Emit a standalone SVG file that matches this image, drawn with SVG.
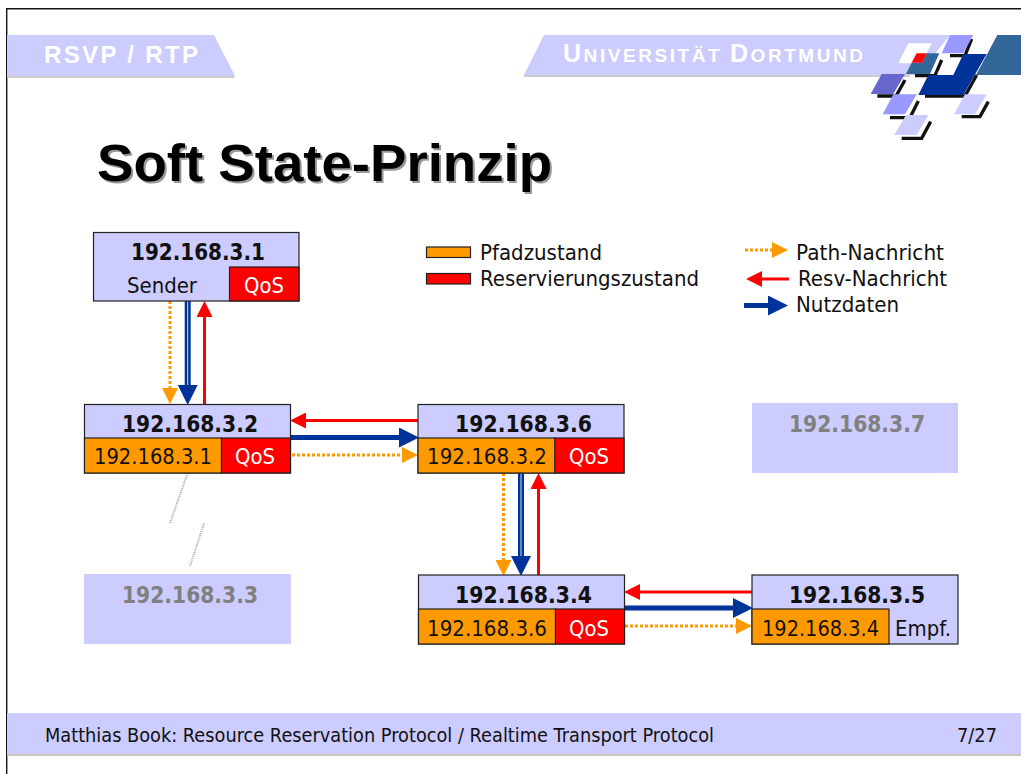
<svg xmlns="http://www.w3.org/2000/svg" width="1021" height="774" viewBox="0 0 1021 774">
<style>
text{font-family:"DejaVu Sans","Noto Sans",sans-serif;fill:#111}
.ip{font-size:23px;font-weight:700}
.reg{font-size:22px}
.ghost{fill:#808080}
.wt{fill:#fff}
.box{fill:#ccf;stroke:#222;stroke-width:1.2}
.org{fill:#f90;stroke:#222;stroke-width:1.2}
.red{fill:#f00;stroke:#222;stroke-width:1.2}
.path{stroke:#f90;stroke-width:3;stroke-dasharray:3 2;fill:none;marker-end:url(#hO)}
.resv{stroke:#f00;stroke-width:3;fill:none;marker-end:url(#hR)}
.data{stroke:#039;stroke-width:5;fill:none;marker-end:url(#hB)}
</style>
<defs>
<marker id="hO" markerUnits="userSpaceOnUse" markerWidth="16" markerHeight="16" refX="0" refY="8" orient="auto"><path d="M0 0L16 8L0 16Z" fill="#f90"/></marker>
<marker id="hR" markerUnits="userSpaceOnUse" markerWidth="16" markerHeight="16" refX="0" refY="8" orient="auto"><path d="M0 0L16 8L0 16Z" fill="#f00"/></marker>
<marker id="hB" markerUnits="userSpaceOnUse" markerWidth="20" markerHeight="20" refX="0" refY="10" orient="auto"><path d="M0 0L20 10L0 20Z" fill="#039"/></marker>
</defs>
<rect width="1021" height="774" fill="#fff"/>
<path d="M6.700 774V8.700H1021" fill="none" stroke="#111" stroke-width="1.400"/>
<g id="header">
<path d="M7 76H235L234 78H7Z" fill="#ccc"/>
<path d="M7 35H214L235 76H7Z" fill="#ccf"/>
<text x="44" y="63" class="wt" style="font-family:'Liberation Sans',sans-serif;font-weight:700;font-size:24px" textLength="154">RSVP / RTP</text>
<path d="M524 75H910V77H524Z" fill="#ccc"/>
<path d="M544 35H950L918 75H524Z" fill="#ccf"/>
<text x="563" y="62" class="wt" style="font-family:'Liberation Sans',sans-serif;font-weight:700;font-size:19px" textLength="300"><tspan font-size="25">U</tspan>NIVERSITÄT <tspan font-size="25">D</tspan>ORTMUND</text>
</g>
<g id="logo" transform="translate(860 25) scale(.3333)">
<path d="M52 213H108L135 165M90 278H150L175 228M125 340H185L212 290M305 275H360L385 230M195 213H315L350 150M270 92H315L335 42M165 152H225L245 105" fill="none" stroke="#111" stroke-width="10"/>
<path d="M145 55H215L185 115H115Z" fill="#fff"/>
<path d="M138 147L155 113H187L200 85H238L210 147Z" fill="#369"/>
<path d="M170 85H200L187 113H155Z" fill="#f00"/>
<path d="M412 30H483V150H348Z" fill="#369"/>
<path d="M270 30H340L310 85H245Z" fill="#99f"/>
<path d="M310 87H380L310 210H175L205 150H280Z" fill="#039"/>
<path d="M262 100H300L275 145H232Z" fill="#fff"/>
<path d="M65 147H135L100 207H32Z" fill="#66c"/>
<path d="M100 208H170L135 268H68Z" fill="#99f"/>
<path d="M138 270H205L170 330H103Z" fill="#ccf"/>
<path d="M315 208H380L345 268H282Z" fill="#ccf"/>
</g>
<g id="title">
<text x="99" y="183" style="font-family:'Liberation Sans',sans-serif;font-weight:700;font-size:51px;fill:#999" textLength="455" lengthAdjust="spacingAndGlyphs">Soft State-Prinzip</text>
<text x="97" y="181" style="font-family:'Liberation Sans',sans-serif;font-weight:700;font-size:51px;fill:#000" textLength="455" lengthAdjust="spacingAndGlyphs">Soft State-Prinzip</text>
</g>
<g id="legend">
<rect x="426.500" y="247" width="44" height="10.500" class="org"/>
<rect x="426.500" y="273.500" width="44" height="10.500" class="red"/>
<text x="480" y="260" class="reg" textLength="122" lengthAdjust="spacingAndGlyphs">Pfadzustand</text>
<text x="480" y="286" class="reg" textLength="219" lengthAdjust="spacingAndGlyphs">Reservierungszustand</text>
<text x="796" y="260" class="reg" textLength="148" lengthAdjust="spacingAndGlyphs">Path-Nachricht</text>
<text x="798" y="286" class="reg" textLength="149" lengthAdjust="spacingAndGlyphs">Resv-Nachricht</text>
<text x="796" y="312" class="reg" textLength="103" lengthAdjust="spacingAndGlyphs">Nutzdaten</text>
</g>
<g id="connectors">
<path class="path" d="M745 250H772"/>
<path class="resv" d="M789 279H762"/>
<path class="data" d="M744 305.500H768"/>
<path class="path" d="M170 301V388"/>
<path d="M187.700 301V385" stroke="#039" stroke-width="6"/><path d="M187.700 301V385" stroke="#cde" stroke-width="1"/>
<path class="data" d="M187.700 301V385" style="stroke:none"/>
<path class="resv" d="M204.500 404V317"/>
<path class="resv" d="M418 420.500H306"/>
<path class="data" d="M290 437.500H399"/>
<path class="path" d="M292 455H402"/>
<path class="path" d="M503.500 473V560"/>
<path d="M521 473V556" stroke="#039" stroke-width="6"/><path d="M521 473V556" stroke="#cde" stroke-width="1"/>
<path class="data" d="M521 473V556" style="stroke:none"/>
<path class="resv" d="M538.500 575V489"/>
<path class="resv" d="M752 592H640"/>
<path class="data" d="M624 608H733"/>
<path class="path" d="M625 626H736"/>
<path d="M187.700 473L170 523M204 523.500L190 566" fill="none" stroke="#aaa" stroke-width="2" stroke-dasharray="1 1"/>
</g>
<g id="node-192-168-3-1">
<rect x="93.500" y="232.500" width="205.500" height="68.500" class="box"/>
<rect x="229.500" y="267" width="69.500" height="34" class="red"/>
<text x="131" y="260" class="ip" textLength="134" lengthAdjust="spacingAndGlyphs">192.168.3.1</text>
<text x="127" y="293" class="reg" textLength="70" lengthAdjust="spacingAndGlyphs">Sender</text>
<text x="244" y="293" class="reg wt" textLength="40" lengthAdjust="spacingAndGlyphs">QoS</text>
</g>
<g id="node-192-168-3-2">
<rect x="84.500" y="404.500" width="206" height="68.500" class="box"/>
<rect x="84.500" y="438" width="137" height="35" class="org"/>
<rect x="221.500" y="438" width="69" height="35" class="red"/>
<text x="122" y="432" class="ip" textLength="136" lengthAdjust="spacingAndGlyphs">192.168.3.2</text>
<text x="94" y="464" class="reg" textLength="118" lengthAdjust="spacingAndGlyphs">192.168.3.1</text>
<text x="235" y="464" class="reg wt" textLength="40" lengthAdjust="spacingAndGlyphs">QoS</text>
</g>
<g id="node-192-168-3-6">
<rect x="418" y="404.500" width="206" height="68.500" class="box"/>
<rect x="418" y="438" width="137" height="35" class="org"/>
<rect x="555" y="438" width="69" height="35" class="red"/>
<text x="455" y="432" class="ip" textLength="137" lengthAdjust="spacingAndGlyphs">192.168.3.6</text>
<text x="427" y="464" class="reg" textLength="120" lengthAdjust="spacingAndGlyphs">192.168.3.2</text>
<text x="569" y="464" class="reg wt" textLength="40" lengthAdjust="spacingAndGlyphs">QoS</text>
</g>
<g id="node-192-168-3-4">
<rect x="418.500" y="575" width="206" height="69" class="box"/>
<rect x="418.500" y="609" width="137" height="35" class="org"/>
<rect x="555.500" y="609" width="69" height="35" class="red"/>
<text x="455" y="603" class="ip" textLength="137" lengthAdjust="spacingAndGlyphs">192.168.3.4</text>
<text x="427" y="636" class="reg" textLength="120" lengthAdjust="spacingAndGlyphs">192.168.3.6</text>
<text x="569" y="636" class="reg wt" textLength="40" lengthAdjust="spacingAndGlyphs">QoS</text>
</g>
<g id="node-192-168-3-5">
<rect x="752" y="575" width="206" height="69" class="box"/>
<rect x="752" y="609" width="137" height="35" class="org"/>
<text x="789" y="603" class="ip" textLength="136" lengthAdjust="spacingAndGlyphs">192.168.3.5</text>
<text x="762" y="636" class="reg" textLength="117" lengthAdjust="spacingAndGlyphs">192.168.3.4</text>
<text x="895" y="636" class="reg" textLength="56" lengthAdjust="spacingAndGlyphs">Empf.</text>
</g>
<g id="node-192-168-3-3">
<rect x="84" y="574" width="207" height="70" fill="#ccf"/>
<text x="122" y="603" class="ip ghost" textLength="136" lengthAdjust="spacingAndGlyphs">192.168.3.3</text>
</g>
<g id="node-192-168-3-7">
<rect x="752" y="403" width="206" height="70" fill="#ccf"/>
<text x="789" y="432" class="ip ghost" textLength="136" lengthAdjust="spacingAndGlyphs">192.168.3.7</text>
</g>
<g id="footer">
<rect x="7" y="754" width="1014" height="2" fill="#c8c8c0"/>
<rect x="7" y="713" width="1014" height="41" fill="#ccf"/>
<text x="45" y="742" style="font-size:20px" textLength="669" lengthAdjust="spacingAndGlyphs">Matthias Book: Resource Reservation Protocol / Realtime Transport Protocol</text>
<text x="957" y="742" style="font-size:20px" textLength="40" lengthAdjust="spacingAndGlyphs">7/27</text>
</g>
</svg>
